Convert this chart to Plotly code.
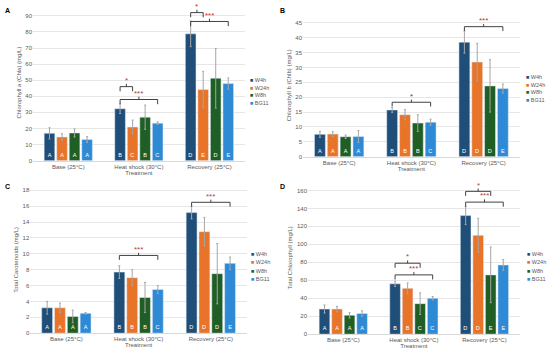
import plotly.graph_objects as go

categories = ["Base (25°C)", "Heat shock (30°C)", "Recovery (25°C)"]
series = ["W4h", "W24h", "W8h", "BG11"]
colors = ["#1f4e79", "#e8742a", "#1f5e24", "#2f8ad6"]

# Panel A: Chlorophyll a
chla_vals = {"W4h": [17.0, 32.3, 78.8], "W24h": [14.7, 20.9, 44.2],
             "W8h": [17.2, 27.0, 51.2], "BG11": [13.1, 23.3, 47.9]}
chla_err = {"W4h": [3.5, 3.0, 8.0], "W24h": [2.0, 4.3, 11.3],
            "W8h": [2.5, 7.5, 18.5], "BG11": [1.8, 0.8, 3.5]}
chla_let = {"W4h": ["A", "B", "D"], "W24h": ["A", "C", "E"],
            "W8h": ["A", "B", "D"], "BG11": ["A", "C", "E"]}

# Panel B: Chlorophyll b
chlb_vals = {"W4h": [7.5, 15.7, 38.5], "W24h": [7.6, 14.1, 31.8],
             "W8h": [6.7, 11.3, 23.8], "BG11": [6.8, 11.6, 22.9]}
chlb_err = {"W4h": [1.0, 0.8, 3.7], "W24h": [0.8, 1.7, 6.3],
            "W8h": [0.6, 2.8, 8.8], "BG11": [2.0, 1.0, 1.5]}
chlb_let = {"W4h": ["A", "B", "D"], "W24h": ["A", "B", "D"],
            "W8h": ["A", "B", "D"], "BG11": ["A", "C", "E"]}

# Panel C: Total carotenoids
car_vals = {"W4h": [3.2, 7.7, 15.2], "W24h": [3.2, 7.0, 12.8],
            "W8h": [2.1, 4.5, 7.5], "BG11": [2.5, 5.5, 8.8]}
car_err = {"W4h": [0.8, 0.8, 0.8], "W24h": [0.6, 1.0, 1.8],
           "W8h": [0.8, 1.9, 3.8], "BG11": [0.1, 0.5, 0.8]}
car_let = {"W4h": ["A", "B", "D"], "W24h": ["A", "B", "D"],
           "W8h": ["A", "B", "D"], "BG11": ["A", "C", "E"]}

# Panel D: Total chlorophyll
tot_vals = {"W4h": [28, 56, 132], "W24h": [28, 51, 110],
            "W8h": [21, 34, 66], "BG11": [23, 40, 77]}
tot_err = {"W4h": [4.5, 3, 10], "W24h": [3, 6, 19],
           "W8h": [3, 12, 31], "BG11": [3, 2, 6]}
tot_let = {"W4h": ["A", "B", "D"], "W24h": ["A", "B", "D"],
           "W8h": ["A", "C", "E"], "BG11": ["A", "C", "E"]}

# brackets: (category index, from series idx, to series idx, y level, label)
brackets_A = [(1, 0, 1, 46, "*"), (1, 0, 3, 38, "***"), (2, 0, 1, 92, "*"), (2, 0, 3, 86.5, "***")]
brackets_B = [(1, 0, 3, 18.3, "*"), (2, 0, 3, 43.7, "***")]
brackets_C = [(1, 0, 3, 9.8, "***"), (2, 0, 3, 16.5, "***")]
brackets_D = [(1, 0, 2, 79, "*"), (1, 0, 3, 66, "***"), (2, 0, 2, 159, "*"), (2, 0, 3, 147, "***")]

BARGAP = 0.29
BARGROUPGAP = 0.15
FONT = "Liberation Sans"

panels = [
    dict(name="A", vals=chla_vals, err=chla_err, let=chla_let, br=brackets_A,
         title="Chlorophyll a (Chla) (mg/L)", rng=[0, 97], dtick=10,
         xd=[0.06, 0.445], yd=[0.5462, 0.9871], leg=(0.452, [81, 88.5, 96, 103.5]),
         lab=(0.006, 0.985), starcol=["#a8432a", "#a8432a", "#e02626", "#e02626"]),
    dict(name="B", vals=chlb_vals, err=chlb_err, let=chlb_let, br=brackets_B,
         title="Chlorophyll b (Chlb) (mg/L)", rng=[0, 48], dtick=5,
         xd=[0.551, 0.945], yd=[0.5574, 0.9608], leg=(0.954, [78, 85.5, 93, 100.5]),
         lab=(0.506, 0.985), starcol=["#7a3b2a", "#b5442a"]),
    dict(name="C", vals=car_vals, err=car_err, let=car_let, br=brackets_C,
         title="Total Carotenoids (mg/L)", rng=[0, 18.5], dtick=2,
         xd=[0.055, 0.449], yd=[0.0588, 0.4734], leg=(0.455, [256, 264.5, 273, 281.5]),
         lab=(0.006, 0.49), starcol=["#b5442a", "#b5442a"]),
    dict(name="D", vals=tot_vals, err=tot_err, let=tot_let, br=brackets_D,
         title="Total Chlorophyll (mg/L)", rng=[0, 170], dtick=20,
         xd=[0.56, 0.945], yd=[0.056, 0.4874], leg=(0.956, [256, 264.5, 273, 281.5]),
         lab=(0.506, 0.49), starcol=["#b5442a", "#b5442a", "#b5442a", "#b5442a"]),
]

fig = go.Figure()
shapes = []
annotations = []

group_w = 1 - BARGAP
slot = group_w / len(series)


def center(cat, s):
    return cat - group_w / 2 + slot * (s + 0.5)


for k, p in enumerate(panels):
    sfx = "" if k == 0 else str(k + 1)
    xref, yref = "x" + sfx, "y" + sfx
    for i, s in enumerate(series):
        fig.add_trace(go.Bar(
            x=categories, y=p["vals"][s], name=s, marker_color=colors[i],
            xaxis=xref, yaxis=yref, showlegend=False,
            error_y=dict(type="data", array=p["err"][s], color="#a6a6a6",
                         thickness=1, width=1),
            text=p["let"][s], textposition="inside", insidetextanchor="start",
            textangle=0, textfont=dict(color="white", size=6, family=FONT),
            cliponaxis=False,
        ))
    layout_x = dict(domain=p["xd"], anchor=yref, type="category",
                    showgrid=False, showline=True, linecolor="#d9d9d9", linewidth=1,
                    ticks="", tickfont=dict(size=6, color="#595959", family=FONT),
                    title=dict(text="Treatment", font=dict(size=6, color="#595959", family=FONT),
                               standoff=1),
                    range=[-0.5, 2.5])
    layout_y = dict(domain=p["yd"], anchor=xref, range=p["rng"], dtick=p["dtick"],
                    showgrid=True, gridcolor="#e6e6e6", gridwidth=1, zeroline=False,
                    showline=False, ticks="",
                    tickfont=dict(size=6, color="#595959", family=FONT),
                    title=dict(text=p["title"], font=dict(size=6, color="#595959", family=FONT),
                               standoff=3))
    fig.update_layout(**{"xaxis" + sfx: layout_x, "yaxis" + sfx: layout_y})

    rspan = p["rng"][1] - p["rng"][0]
    d = 0.03 * rspan
    for j, (cat, a, b, yv, lab) in enumerate(p["br"]):
        x0, x1 = center(cat, a), center(cat, b)
        xm = (x0 + x1) / 2
        shapes.append(dict(type="path", xref=xref, yref=yref,
                           path=f"M {x0},{yv - d} L {x0},{yv} L {x1},{yv} L {x1},{yv - d} "
                                f"M {xm},{yv} L {xm},{yv + d * 0.6}",
                           line=dict(color="#404040", width=1)))
        annotations.append(dict(x=xm, y=yv + d * 0.6, xref=xref, yref=yref, text=lab,
                                showarrow=False, yanchor="bottom", yshift=-3,
                                font=dict(size=8, color=p["starcol"][j], family=FONT)))

    # panel label
    annotations.append(dict(x=p["lab"][0], y=p["lab"][1], xref="paper", yref="paper",
                            text="<b>" + p["name"] + "</b>", showarrow=False,
                            xanchor="left", yanchor="top",
                            font=dict(size=7, color="black", family=FONT)))
    # legend
    lx, lys = p["leg"]
    for i, s in enumerate(series):
        annotations.append(dict(x=lx, y=1 - lys[i] / 357, xref="paper", yref="paper",
                                text=f"<span style='color:{colors[i]}'>■</span> {s}",
                                showarrow=False, xanchor="left", yanchor="middle",
                                borderpad=0,
                                font=dict(size=5.5, color="#595959", family=FONT)))

fig.update_layout(
    width=550, height=357, margin=dict(l=0, r=0, t=0, b=0),
    paper_bgcolor="white", plot_bgcolor="white",
    barmode="group", bargap=BARGAP, bargroupgap=BARGROUPGAP,
    uniformtext=dict(minsize=5, mode="show"),
    shapes=shapes, annotations=annotations, showlegend=False,
)

fig.write_html("out.html", config={"displayModeBar": False},
               post_script="document.body.style.margin='0px';")
